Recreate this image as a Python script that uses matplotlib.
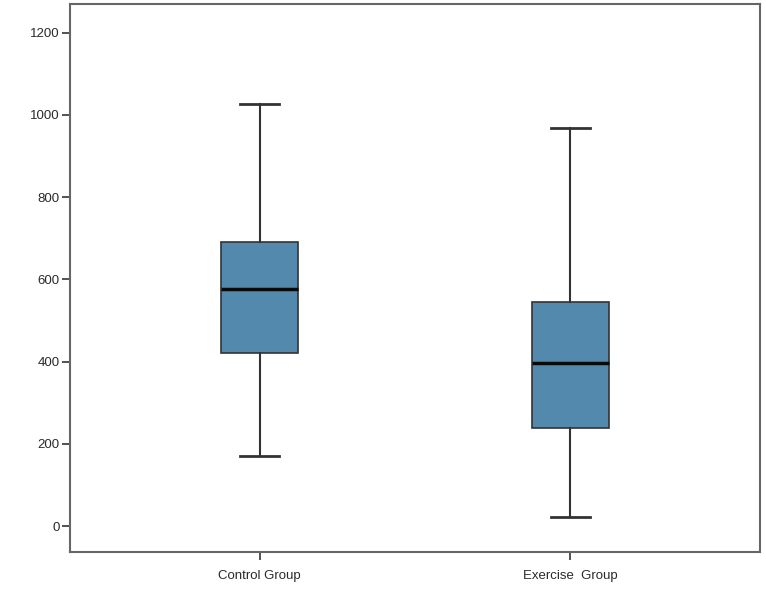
import matplotlib
matplotlib.use("Agg")
import matplotlib.pyplot as plt

categories = ["Control Group", "Exercise  Group"]
whisker_low = [170, 22]
q1 = [421, 238]
median = [577, 397]
q3 = [692, 545]
whisker_high = [1027, 968]
yticks = [0, 200, 400, 600, 800, 1000, 1200]

plt.rcParams['font.family'] = ['Liberation Sans', 'DejaVu Sans']

fig = plt.figure(figsize=(7.66, 5.95), dpi=100)
ax = fig.add_axes([70/766, 43/595, 690/766, 548/595])

stats = []
for i, c in enumerate(categories):
    stats.append(dict(label=c, whislo=whisker_low[i], q1=q1[i], med=median[i],
                      q3=q3[i], whishi=whisker_high[i], fliers=[]))

ax.bxp(stats, positions=[1, 2], widths=0.25, patch_artist=True, showfliers=False,
       boxprops=dict(facecolor="#5489ae", edgecolor="#333333", linewidth=1.2),
       medianprops=dict(color="#0a0a0a", linewidth=2.5),
       whiskerprops=dict(color="#333333", linewidth=1.5),
       capprops=dict(color="#333333", linewidth=2.0),
       capwidths=0.125)

ax.set_xlim(0.39, 2.61)
ax.set_ylim(-63, 1270)
ax.set_yticks(yticks)
ax.set_yticklabels([str(v) for v in yticks])
ax.set_xticks([1, 2])
ax.set_xticklabels(categories)
for s in ax.spines.values():
    s.set_color("#666666")
    s.set_linewidth(1.5)
ax.tick_params(axis='both', direction='out', length=6, width=1.3, color="#444444",
               labelsize=9.5, labelcolor="#2a2a2a")
ax.tick_params(axis='y', pad=1.5)
ax.tick_params(axis='x', pad=7)

fig.savefig("out.png", dpi=100)
